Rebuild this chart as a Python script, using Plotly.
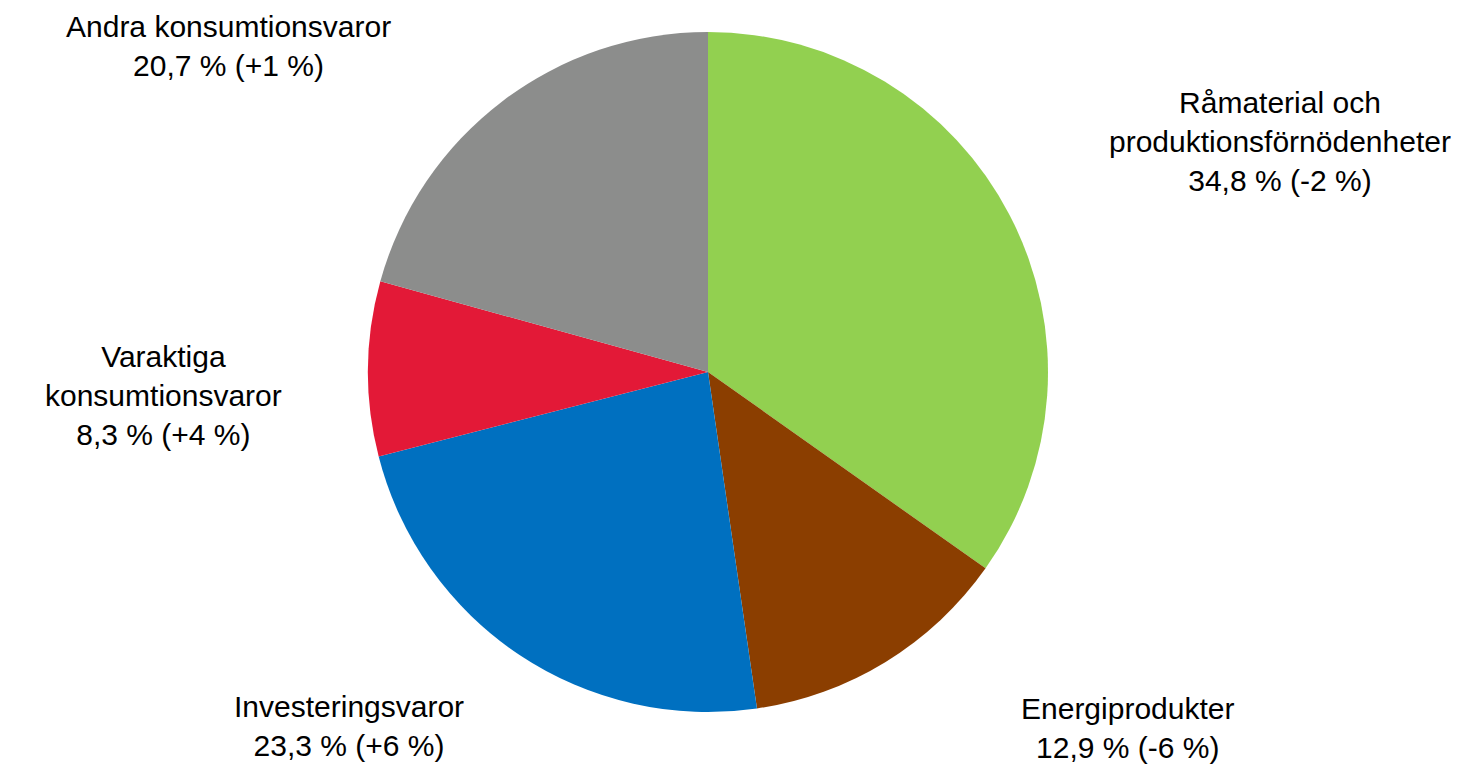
import plotly.graph_objects as go

categories = ["Råmaterial och produktionsförnödenheter", "Energiprodukter", "Investeringsvaror",
              "Varaktiga konsumtionsvaror", "Andra konsumtionsvaror"]
shares = [34.8, 12.9, 23.3, 8.3, 20.7]
changes = ["-2", "-6", "+6", "+4", "+1"]
label_texts = ["Råmaterial och<br>produktionsförnödenheter", "Energiprodukter", "Investeringsvaror",
               "Varaktiga<br>konsumtionsvaror", "Andra konsumtionsvaror"]
colors = ["#92D050", "#8B3E00", "#0070C0", "#E31937", "#8C8D8C"]

W, H = 1473, 766
OFF = 8  # page body margin
label_pos = [(1280, 141), (1127, 728), (349, 726), (163, 395), (228, 46)]

cx, cy, r = 708 - OFF, 372 - OFF, 340
fig = go.Figure(go.Pie(
    labels=categories, values=shares, sort=False, direction="clockwise", rotation=0,
    marker=dict(colors=colors, line=dict(width=0)), textinfo="none", hoverinfo="label+percent",
    domain=dict(x=[(cx - r) / W, (cx + r) / W], y=[1 - (cy + r) / H, 1 - (cy - r) / H]),
    showlegend=False,
))

for t, s, c, (px, py) in zip(label_texts, shares, changes, label_pos):
    val = f"{s:.1f}".replace(".", ",")
    fig.add_annotation(x=(px - OFF) / W, y=1 - (py - OFF) / H, xref="paper", yref="paper",
                       xanchor="center", yanchor="middle", showarrow=False, borderpad=0,
                       text=f"{t}<br>{val} % ({c} %)", align="center",
                       font=dict(family="Liberation Sans, Arial", size=30, color="#000000"))

fig.update_layout(width=W, height=H, margin=dict(l=0, r=0, t=0, b=0),
                  paper_bgcolor="white", plot_bgcolor="white")
fig.write_html("out.html")
